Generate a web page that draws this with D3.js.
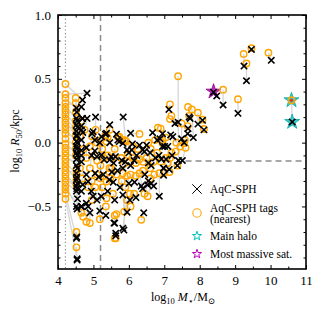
<!DOCTYPE html>
<html>
<head>
<meta charset="utf-8">
<script src="https://cdn.jsdelivr.net/npm/d3@7"></script>
<style>
body { margin: 0; background: #fff; }
text { font-family: "Liberation Serif", "DejaVu Serif", serif; fill: #000; }
</style>
</head>
<body>
<svg id="chart" width="322" height="313"></svg>
<script>
// tags (nearest) and the AqC-SPH particle they belong to, index matched
const tagMass = [
  4.21,4.21,4.21,4.21,4.21,4.21,4.21,4.21,4.21,4.21,4.21,4.21,4.21,4.21,4.21,4.21,4.21,4.21,4.21,4.21,4.21,4.21,4.21,4.21,4.21,4.21,4.21,4.21,
  4.50,4.50,4.50,4.50,4.50,4.50,4.50,4.50,4.50,4.52,4.52,4.52,4.52,4.52,4.52,4.66,4.71,4.80,4.90,4.66,4.72,4.80,4.62,4.68,4.85,4.95,4.95,4.90,4.96,4.90,4.75,4.62,
  5.03,5.10,5.20,5.06,5.10,5.20,5.25,5.37,5.30,5.40,5.45,5.55,5.60,5.69,5.40,5.34,5.46,5.91,5.74,5.10,5.20,5.30,5.37,5.47,5.37,5.18,5.35,5.60,5.65,5.63,5.60,5.55,5.50,5.65,5.25,5.05,
  5.73,5.78,5.88,5.92,6.30,5.97,5.78,5.85,6.00,6.10,6.20,6.30,6.40,6.50,5.83,5.95,6.05,6.20,6.30,6.44,6.53,5.87,6.05,6.35,5.95,5.90,6.03,6.15,6.25,6.12,5.80,
  6.72,6.86,7.00,6.60,6.70,6.80,6.62,6.90,6.55,6.82,6.74,6.90,6.95,7.04,6.95,7.32,7.20,7.10,6.60,6.40,
  7.39,7.16,7.20,7.16,7.49,7.67,7.78,7.95,8.12,8.08,7.70,7.66,7.58,7.34,7.45,7.56,7.60,7.04,7.16,7.37,7.15,
  9.24,9.32,9.46,9.94,8.66,9.08,10.59
];
const tagR50 = [
  0.46,0.38,0.35,0.31,0.28,0.25,0.22,0.19,0.16,0.13,0.10,0.07,0.03,-0.01,-0.04,-0.07,-0.10,-0.13,-0.16,-0.19,-0.22,-0.25,-0.28,-0.31,-0.34,-0.37,-0.40,-0.44,
  0.35,0.31,0.24,0.17,0.12,0.06,0.00,-0.05,-0.10,-0.21,-0.25,-0.29,-0.33,-0.70,-0.82,-0.55,-0.58,-0.62,-0.63,0.17,-0.05,-0.12,-0.20,-0.28,-0.35,-0.30,-0.45,-0.20,0.05,-0.03,0.10,0.05,
  -0.10,-0.14,-0.18,0.10,0.00,0.02,-0.05,0.008,-0.12,-0.10,-0.20,-0.12,-0.05,0.047,0.04,0.06,0.10,0.016,0.04,-0.25,-0.28,-0.26,-0.305,-0.28,-0.435,-0.60,-0.50,-0.57,-0.56,-0.75,-0.75,-0.40,-0.20,-0.25,-0.35,-0.35,
  0.047,0.02,0.02,0.008,0.068,-0.096,-0.12,-0.17,-0.15,-0.12,-0.16,-0.13,-0.15,-0.12,-0.24,-0.26,-0.25,-0.26,-0.24,-0.40,-0.42,-0.54,-0.50,-0.605,-0.45,-0.35,-0.40,-0.40,-0.05,-0.03,-0.30,
  -0.25,-0.24,-0.235,-0.20,-0.15,-0.08,-0.05,-0.15,0.00,0.117,0.02,0.11,0.02,0.04,-0.005,-0.07,-0.08,-0.16,-0.28,-0.22,
  0.52,0.30,0.21,0.185,0.15,0.28,0.26,0.235,0.107,0.18,0.21,0.13,0.02,0.00,-0.03,-0.005,-0.04,-0.12,-0.12,-0.18,-0.23,
  0.695,0.62,0.74,0.705,0.415,0.34,0.332
];
const sphMass = [
  4.69,4.82,4.52,4.66,4.52,4.69,4.52,4.52,4.52,4.66,4.52,4.66,4.52,4.52,4.66,4.52,4.52,4.66,4.52,4.52,4.80,4.52,4.66,4.52,4.52,4.66,4.52,4.54,
  4.53,4.54,4.55,4.53,4.55,4.53,4.54,4.55,4.53,4.55,4.53,4.55,4.54,4.53,4.54,4.66,4.80,4.85,4.90,4.69,4.70,4.80,4.66,4.70,4.85,4.94,4.99,4.95,4.96,4.99,4.82,4.66,
  5.04,5.10,5.23,5.06,5.04,5.23,5.18,5.37,5.30,5.46,5.50,5.57,5.62,5.65,5.46,5.34,5.46,5.84,5.69,5.05,5.15,5.28,5.45,5.56,5.40,5.18,5.35,5.60,5.58,5.63,5.63,5.60,5.52,5.68,5.22,5.10,
  5.73,5.83,5.95,6.08,6.05,6.00,5.80,5.90,6.05,6.15,6.22,6.39,6.44,6.55,5.83,6.00,6.16,6.35,6.39,6.53,6.63,5.83,5.95,6.42,5.83,5.86,6.03,6.20,6.30,6.10,5.75,
  6.70,6.86,6.98,6.63,6.75,6.85,6.60,6.92,6.50,6.67,6.80,6.95,6.88,6.95,7.01,7.10,7.22,7.05,6.55,6.45,
  7.40,7.13,7.30,7.39,7.49,7.73,7.82,7.95,8.12,8.08,7.70,7.67,7.66,7.18,7.24,7.56,7.51,6.98,7.14,7.37,6.98,
  9.25,9.32,9.46,10.02,8.66,9.08,10.61
];
const sphR50 = [
  0.334,0.387,0.27,0.28,0.19,0.19,0.14,0.09,0.05,0.10,0.01,0.02,-0.03,-0.08,-0.06,-0.13,-0.18,-0.15,-0.24,-0.29,-0.25,-0.34,-0.38,-0.38,-0.50,-0.50,-0.75,-0.91,
  0.24,0.17,0.12,0.06,0.00,-0.05,-0.10,-0.20,-0.27,-0.32,-0.36,-0.44,-0.52,-0.74,-0.92,-0.50,-0.475,-0.50,-0.55,0.19,0.08,-0.04,-0.10,-0.33,-0.305,-0.38,-0.42,-0.10,0.07,0.086,0.19,0.13,
  -0.065,-0.11,-0.096,0.20,0.02,0.047,0.00,0.073,-0.135,-0.135,-0.11,-0.16,-0.11,0.066,0.00,0.066,0.14,0.20,0.02,-0.24,-0.27,-0.25,-0.29,-0.31,-0.38,-0.535,-0.57,-0.63,-0.63,-0.71,-0.73,-0.45,-0.23,-0.22,-0.42,-0.45,
  0.008,-0.005,-0.057,-0.057,0.073,-0.08,-0.14,-0.15,-0.18,-0.14,-0.10,-0.057,-0.07,-0.16,-0.20,-0.32,-0.31,-0.34,-0.36,-0.33,-0.32,-0.41,-0.545,-0.55,-0.67,-0.685,-0.45,-0.43,-0.02,-0.01,-0.35,
  -0.34,-0.42,-0.20,-0.18,-0.12,-0.10,-0.08,-0.13,-0.02,0.078,0.02,0.07,0.03,-0.03,-0.03,-0.03,-0.10,-0.13,-0.30,-0.25,
  -0.14,0.26,0.15,0.16,0.03,0.19,0.04,0.145,0.10,0.175,0.20,0.11,0.07,0.06,0.047,0.00,-0.14,-0.20,-0.21,-0.18,-0.255,
  0.60,0.485,0.73,0.645,0.295,0.23,0.162
];
// particles of the most massive satellite without a visible tag
const satSphMass = [8.39, 8.48];
const satSphR50 = [0.395, 0.366];

const mainHaloMass = [10.59, 10.61];
const mainHaloR50 = [0.332, 0.162];
const satMass = [8.39];
const satR50 = [0.40];

const xTicks = [4, 5, 6, 7, 8, 9, 10, 11];
const yTicks = [-0.5, 0.0, 0.5, 1.0];
const legendLabels = ["AqC-SPH", "AqC-SPH tags", "(nearest)", "Main halo", "Most massive sat."];

const svg = d3.select("#chart");
const x = d3.scaleLinear().domain([4, 11]).range([58, 306]);
const y = d3.scaleLinear().domain([-0.99, 1.0]).range([269, 15]);

const grey = "#8c8c8c";
const orange = "#ffa500";

// reference lines
svg.append("line")
  .attr("x1", x(4.21)).attr("x2", x(4.21))
  .attr("y1", y(1.0)).attr("y2", y(-0.99))
  .attr("stroke", grey).attr("stroke-width", 1.2).attr("stroke-dasharray", "1.2,2.4");
svg.append("line")
  .attr("x1", x(5.2)).attr("x2", x(5.2))
  .attr("y1", y(1.0)).attr("y2", y(-0.99))
  .attr("stroke", grey).attr("stroke-width", 1.5).attr("stroke-dasharray", "6,4");
svg.append("line")
  .attr("x1", x(7.6)).attr("x2", x(11))
  .attr("y1", y(-0.143)).attr("y2", y(-0.143))
  .attr("stroke", grey).attr("stroke-width", 1.5).attr("stroke-dasharray", "6,4");

const idx = d3.range(tagMass.length);

// connectors tag -> particle
svg.append("g").selectAll("line").data(idx).join("line")
  .attr("x1", i => x(tagMass[i])).attr("y1", i => y(tagR50[i]))
  .attr("x2", i => x(sphMass[i])).attr("y2", i => y(sphR50[i]))
  .attr("stroke", "#d6d6d6").attr("stroke-width", 1.3);

const star = d3.symbol().type(d3.symbolStar);
const cross = d3.symbol().type(d3.symbolX).size(28);

// main halo and most massive satellite stars
svg.append("g").selectAll("path").data(mainHaloMass).join("path")
  .attr("transform", (d, i) => `translate(${x(d)},${y(mainHaloR50[i])})`)
  .attr("d", star.size(70)())
  .attr("fill", "#3fcaca").attr("stroke", "#00a8a8").attr("stroke-width", 0.8);
svg.append("g").selectAll("path").data(satMass).join("path")
  .attr("transform", (d, i) => `translate(${x(d)},${y(satR50[i])})`)
  .attr("d", star.size(70)())
  .attr("fill", "#c22ac2").attr("stroke", "#8f008f").attr("stroke-width", 0.8);

// tags
svg.append("g").selectAll("circle").data(idx).join("circle")
  .attr("cx", i => x(tagMass[i])).attr("cy", i => y(tagR50[i]))
  .attr("r", 3.2).attr("fill", "none").attr("stroke", orange).attr("stroke-width", 1.4);

// centre of the main halo tag
svg.append("circle")
  .attr("cx", x(mainHaloMass[0])).attr("cy", y(mainHaloR50[0]))
  .attr("r", 1.6).attr("fill", "#f03010");

// particles
const crossG = svg.append("g").attr("fill", "none").attr("stroke", "#000").attr("stroke-width", 1.6);
crossG.selectAll("path.p").data(idx).join("path").attr("class", "p")
  .attr("transform", i => `translate(${x(sphMass[i])},${y(sphR50[i])})`)
  .attr("d", cross());
crossG.selectAll("path.s").data(satSphMass).join("path").attr("class", "s")
  .attr("transform", (d, i) => `translate(${x(d)},${y(satSphR50[i])})`)
  .attr("d", cross());

// axes, ticks inward on all four sides
const xMinor = d3.range(4, 11.01, 0.5).filter(v => !xTicks.includes(v));
const yMinor = d3.range(-0.9, 1.001, 0.1).map(v => Math.round(v * 10) / 10).filter(v => !yTicks.includes(v));

function addAxis(axis, tr, vals, size, labels) {
  const g = svg.append("g").attr("transform", tr)
    .call(axis.tickValues(vals).tickSize(size).tickPadding(labels ? 7 : 0)
      .tickFormat(labels ? labels : () => ""));
  g.select(".domain").remove();
  g.selectAll(".tick line").attr("stroke", "#000").attr("stroke-width", 1);
  g.selectAll("text").attr("font-size", 13).attr("font-family", "Liberation Serif");
  return g;
}
addAxis(d3.axisBottom(x), "translate(0,269)", xTicks, -4, d => d3.format("d")(d));
addAxis(d3.axisBottom(x), "translate(0,269)", xMinor, -2.5, null);
addAxis(d3.axisTop(x), "translate(0,15)", xTicks, -4, null);
addAxis(d3.axisTop(x), "translate(0,15)", xMinor, -2.5, null);
addAxis(d3.axisLeft(y), "translate(58,0)", yTicks, -4, d => d3.format(".1f")(d));
addAxis(d3.axisLeft(y), "translate(58,0)", yMinor, -2.5, null);
addAxis(d3.axisRight(y), "translate(306,0)", yTicks, -4, null);
addAxis(d3.axisRight(y), "translate(306,0)", yMinor, -2.5, null);

svg.append("rect")
  .attr("x", 58).attr("y", 15).attr("width", 248).attr("height", 254)
  .attr("fill", "none").attr("stroke", "#000").attr("stroke-width", 1.6);

// axis labels
const xl = svg.append("text").attr("x", 183).attr("y", 301).attr("text-anchor", "middle").attr("font-size", 12);
xl.append("tspan").text("log");
xl.append("tspan").attr("font-size", 8.5).attr("dy", 3).text("10");
xl.append("tspan").attr("dy", -3).attr("font-style", "italic").text(" M");
xl.append("tspan").attr("font-size", 8.5).attr("dy", 3).text("⋆");
xl.append("tspan").attr("dy", -3).text("/M");
xl.append("tspan").attr("font-size", 8.5).attr("dy", 3).text("⊙");

const yl = svg.append("text").attr("transform", "translate(19,141) rotate(-90)")
  .attr("text-anchor", "middle").attr("font-size", 12);
yl.append("tspan").text("log");
yl.append("tspan").attr("font-size", 8.5).attr("dy", 3).text("10");
yl.append("tspan").attr("dy", -3).attr("font-style", "italic").text(" R");
yl.append("tspan").attr("font-size", 8.5).attr("dy", 3).text("50");
yl.append("tspan").attr("dy", -3).text("/kpc");

// legend
const lg = svg.append("g");
const lx = 197, tx = 210;
lg.append("path").attr("transform", `translate(${lx},189)`)
  .attr("d", d3.symbol().type(d3.symbolX).size(60)())
  .attr("fill", "none").attr("stroke", "#000").attr("stroke-width", 1);
lg.append("circle").attr("cx", lx).attr("cy", 213).attr("r", 4.2)
  .attr("fill", "none").attr("stroke", orange).attr("stroke-width", 1.1);
lg.append("path").attr("transform", `translate(${lx},236)`)
  .attr("d", star.size(26)()).attr("fill", "none").attr("stroke", "#00bfbf").attr("stroke-width", 1);
lg.append("path").attr("transform", `translate(${lx},254)`)
  .attr("d", star.size(26)()).attr("fill", "none").attr("stroke", "#bf00bf").attr("stroke-width", 1);
const ly = [193, 212, 223, 240, 258];
lg.selectAll("text").data(legendLabels).join("text")
  .attr("x", tx).attr("y", (d, i) => ly[i]).attr("font-size", 11.5).text(d => d);
</script>
</body>
</html>
